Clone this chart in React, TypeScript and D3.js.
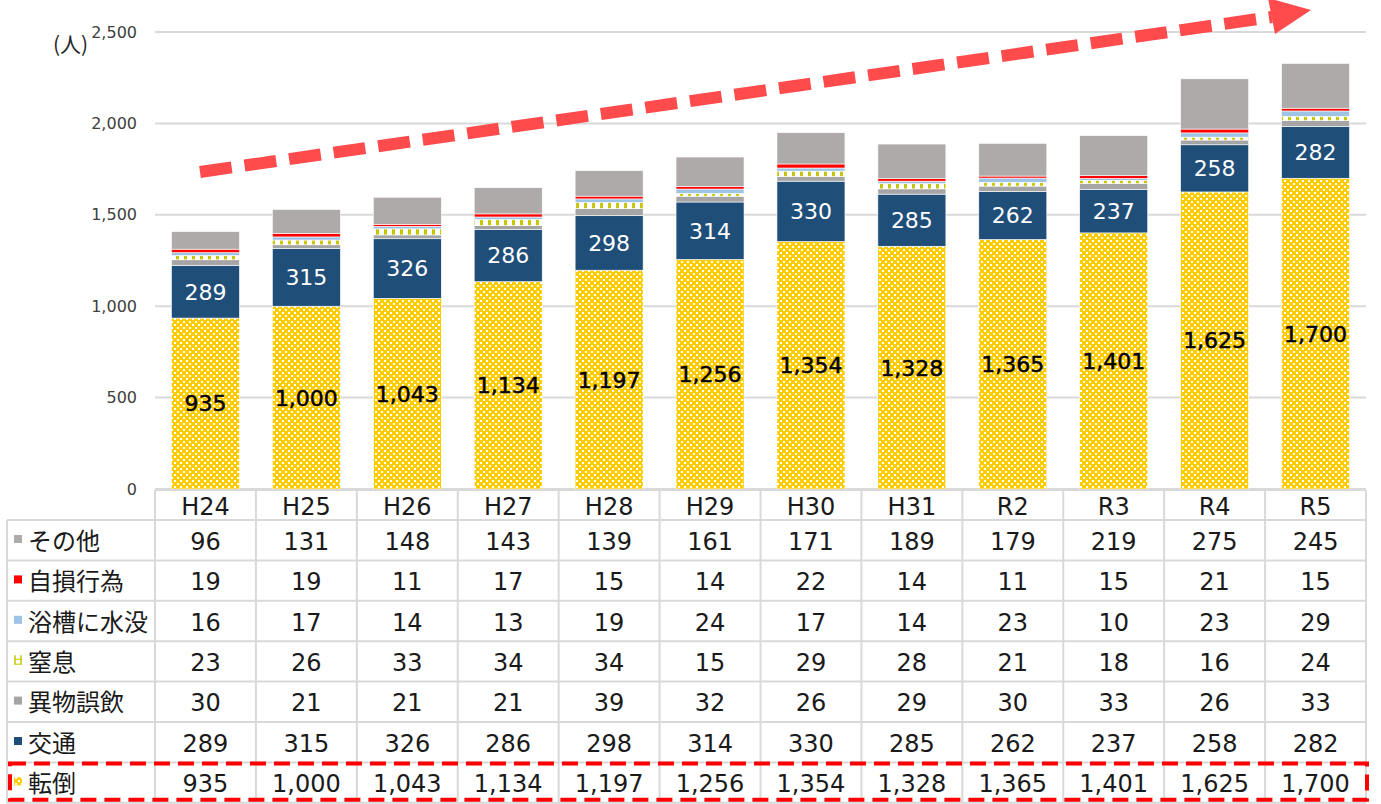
import React from "react";
import { scaleBand, scaleLinear, stack, format } from "d3";

const years = ["H24", "H25", "H26", "H27", "H28", "H29", "H30", "H31", "R2", "R3", "R4", "R5"];
const tentou = [935, 1000, 1043, 1134, 1197, 1256, 1354, 1328, 1365, 1401, 1625, 1700];
const koutsu = [289, 315, 326, 286, 298, 314, 330, 285, 262, 237, 258, 282];
const ibutsu = [30, 21, 21, 21, 39, 32, 26, 29, 30, 33, 26, 33];
const chissoku = [23, 26, 33, 34, 34, 15, 29, 28, 21, 18, 16, 24];
const yokusou = [16, 17, 14, 13, 19, 24, 17, 14, 23, 10, 23, 29];
const jison = [19, 19, 11, 17, 15, 14, 22, 14, 11, 15, 21, 15];
const sonota = [96, 131, 148, 143, 139, 161, 171, 189, 179, 219, 275, 245];
const yTicks = [0, 500, 1000, 1500, 2000, 2500];

const series = [
  { key: "tentou", name: "転倒", values: tentou, fill: "url(#pTentou)", label: "#000" },
  { key: "koutsu", name: "交通", values: koutsu, fill: "#1F4E79", label: "#fff" },
  { key: "ibutsu", name: "異物誤飲", values: ibutsu, fill: "#A5A5A5" },
  { key: "chissoku", name: "窒息", values: chissoku, fill: "url(#pChissoku)" },
  { key: "yokusou", name: "浴槽に水没", values: yokusou, fill: "#9DC3E6" },
  { key: "jison", name: "自損行為", values: jison, fill: "#FF0000" },
  { key: "sonota", name: "その他", values: sonota, fill: "#AEAAAA" },
];

const tableRows = [...series].reverse();
const fmt = format(",");
const NUM = "'DejaVu Sans', 'Noto Sans CJK JP', sans-serif";
const JP = "'Noto Sans CJK JP', sans-serif";

export default function App() {
  const left = 155;
  const right = 1366;
  const x = scaleBand().domain(years).range([left, right]).paddingInner(0).paddingOuter(0);
  const y = scaleLinear().domain([0, 2500]).range([489, 32]);
  const barW = 68;

  const rows = years.map((yr, i) => {
    const r: any = { year: yr };
    series.forEach((s) => (r[s.key] = s.values[i]));
    return r;
  });
  const stacked = stack().keys(series.map((s) => s.key))(rows);

  const tableTop = 490;
  const headH = 30;
  const rowH = 40.4;
  const bodyTop = tableTop + headH;
  const grid = "#D9D9D9";

  return (
    <svg width={1381} height={804} style={{ position: "absolute", left: 0, top: 0, background: "#fff" }}>
      <defs>
        <pattern id="pTentou" width={6} height={6} patternUnits="userSpaceOnUse">
          <rect width={6} height={6} fill="#FFCC00" />
          <rect x={0} y={0} width={2} height={2} fill="#fff" />
          <rect x={3} y={3} width={2} height={2} fill="#fff" />
        </pattern>
        <pattern id="pChissoku" width={8} height={8} patternUnits="userSpaceOnUse">
          <rect width={8} height={8} fill="#fff" />
          <rect x={0} y={0} width={3} height={8} fill="#C9C600" />
        </pattern>
      </defs>

      {/* gridlines */}
      {yTicks.map((t) => (
        <g key={t}>
          <line x1={left} x2={right} y1={y(t)} y2={y(t)} stroke={grid} strokeWidth={2} />
          <text x={137} y={y(t)} dy="0.35em" textAnchor="end" fontSize={16} fill="#404040" fontFamily={NUM}>
            {fmt(t)}
          </text>
        </g>
      ))}
      <text x={53} y={52} fontSize={21} fill="#262626" fontFamily={JP}>
        (人)
      </text>

      {/* bars */}
      {stacked.map((layer, li) => (
        <g key={layer.key}>
          {layer.map((d, i) => {
            const cx = (x(years[i]) ?? 0) + x.bandwidth() / 2;
            return (
              <rect
                key={i}
                x={cx - barW / 2}
                y={y(d[1])}
                width={barW}
                height={y(d[0]) - y(d[1])}
                fill={series[li].fill}
                stroke="#fff"
                strokeWidth={0.6}
              />
            );
          })}
        </g>
      ))}

      {/* data labels */}
      {stacked.slice(0, 2).map((layer, li) => (
        <g key={layer.key}>
          {layer.map((d, i) => {
            const cx = (x(years[i]) ?? 0) + x.bandwidth() / 2;
            return (
              <text
                key={i}
                x={cx}
                y={(y(d[0]) + y(d[1])) / 2}
                dy="0.36em"
                textAnchor="middle"
                fontSize={22}
                fill={series[li].label}
                stroke={li === 0 ? "#000" : "none"}
                strokeWidth={0.5}
                fontFamily={NUM}
              >
                {fmt(d[1] - d[0])}
              </text>
            );
          })}
        </g>
      ))}

      {/* trend arrow */}
      <line x1={200} y1={172} x2={1272} y2={17} stroke="#FF4B4B" strokeWidth={12} strokeDasharray="32,13" />
      <polygon points="1311,10 1268,-2 1275,34" fill="#FF4B4B" />

      {/* table */}
      <g fontFamily={NUM}>
        <line x1={left} x2={right} y1={tableTop} y2={tableTop} stroke={grid} strokeWidth={2} />
        {years.map((yr) => (
          <text
            key={yr}
            x={(x(yr) ?? 0) + x.bandwidth() / 2}
            y={tableTop + headH / 2 + 1}
            dy="0.36em"
            textAnchor="middle"
            fontSize={24}
            fill="#1a1a1a"
          >
            {yr}
          </text>
        ))}
        {tableRows.map((s, ri) => (
          <line key={s.key} x1={7} x2={right} y1={bodyTop + ri * rowH} y2={bodyTop + ri * rowH} stroke={grid} strokeWidth={2} />
        ))}
        <line x1={7} x2={right} y1={bodyTop + tableRows.length * rowH} y2={bodyTop + tableRows.length * rowH} stroke={grid} strokeWidth={2} />
        <line x1={7} x2={7} y1={bodyTop} y2={bodyTop + tableRows.length * rowH} stroke={grid} strokeWidth={2} />
        {[...years.map((yr) => x(yr) ?? 0), right].map((vx, i) => (
          <line key={i} x1={vx} x2={vx} y1={tableTop} y2={bodyTop + tableRows.length * rowH} stroke={grid} strokeWidth={2} />
        ))}
        {tableRows.map((s, ri) => {
          const ry = bodyTop + ri * rowH;
          return (
            <g key={s.key}>
              {s.key === "chissoku" ? (
                <g>
                  <line x1={15} x2={15} y1={ry + 14} y2={ry + 23} stroke="#C9C600" strokeWidth={1.5} />
                  <line x1={21} x2={21} y1={ry + 14} y2={ry + 23} stroke="#C9C600" strokeWidth={1.5} />
                  <line x1={14} x2={22} y1={ry + 18} y2={ry + 18} stroke="#C9C600" strokeWidth={1} />
                  <line x1={14} x2={22} y1={ry + 23} y2={ry + 23} stroke="#C9C600" strokeWidth={1} />
                </g>
              ) : (
                <rect x={14} y={ry + 15} width={8} height={8} fill={s.fill} />
              )}
              <text x={28} y={ry + rowH / 2 + 1} dy="0.36em" fontSize={24} fill="#1a1a1a" fontFamily={JP}>
                {s.name}
              </text>
              {s.values.map((v, i) => (
                <text
                  key={i}
                  x={(x(years[i]) ?? 0) + x.bandwidth() / 2}
                  y={ry + rowH / 2 + 1}
                  dy="0.36em"
                  textAnchor="middle"
                  fontSize={24}
                  fill="#1a1a1a"
                >
                  {fmt(v)}
                </text>
              ))}
            </g>
          );
        })}
      </g>

      {/* highlight box */}
      <rect
        x={10}
        y={bodyTop + 6 * rowH + 1}
        width={1357}
        height={rowH - 4}
        fill="none"
        stroke="#FF0000"
        strokeWidth={4}
        strokeDasharray="16,8"
      />
    </svg>
  );
}
